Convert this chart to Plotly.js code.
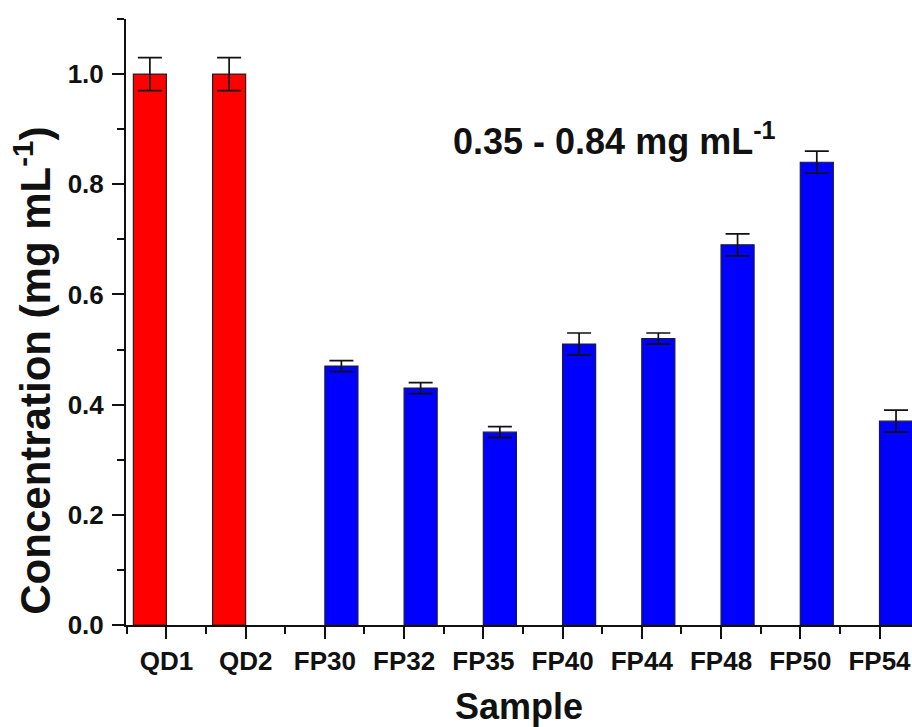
<!DOCTYPE html>
<html>
<head>
<meta charset="utf-8">
<script src="https://cdn.plot.ly/plotly-3.0.1.min.js"></script>
<style>html,body{margin:0;padding:0;background:#fff;overflow:hidden;}</style>
</head>
<body>
<div id="chart" style="width:912px;height:727px;"></div>
<script>
// ---- data ----
const categories = ['QD1', 'QD2', 'FP30', 'FP32', 'FP35', 'FP40', 'FP44', 'FP48', 'FP50', 'FP54'];
const qdSamples = ['QD1', 'QD2'];
const qdValues = [1.00, 1.00];
const qdErrors = [0.03, 0.03];
const fpSamples = ['FP30', 'FP32', 'FP35', 'FP40', 'FP44', 'FP48', 'FP50', 'FP54'];
const fpValues = [0.47, 0.43, 0.35, 0.51, 0.52, 0.69, 0.84, 0.37];
const fpErrors = [0.01, 0.01, 0.01, 0.02, 0.01, 0.02, 0.02, 0.02];
const yTickVals = [0.0, 0.2, 0.4, 0.6, 0.8, 1.0];
const rangeLabel = '0.35 - 0.84 mg mL<sup>-1</sup>';

// ---- styling ----
const FONT = 'Arial, "Liberation Sans", Helvetica, sans-serif';
const barW = 0.417;
const idx = s => categories.indexOf(s);

const qdTrace = {
  type: 'bar',
  x: qdSamples.map(idx),
  y: qdValues,
  width: barW,
  offset: -barW,
  marker: {color: '#ff0000', line: {color: '#222222', width: 1.2}},
  error_y: {type: 'data', array: qdErrors, visible: true, color: '#111111', thickness: 1.7, width: 12},
  hoverinfo: 'skip',
  showlegend: false
};
const fpTrace = {
  type: 'bar',
  x: fpSamples.map(idx),
  y: fpValues,
  width: barW,
  offset: 0,
  marker: {color: '#0000ff', line: {color: '#1a1a40', width: 1.2}},
  error_y: {type: 'data', array: fpErrors, visible: true, color: '#111111', thickness: 1.7, width: 12},
  hoverinfo: 'skip',
  showlegend: false
};

const layout = {
  width: 912,
  height: 727,
  margin: {l: 126, r: 0, t: 19, b: 102},
  paper_bgcolor: '#ffffff',
  plot_bgcolor: '#ffffff',
  barmode: 'overlay',
  font: {family: FONT, color: '#111111'},
  xaxis: {
    type: 'linear',
    range: [-0.51, 9.41],
    tickmode: 'array',
    tickvals: categories.map((c, i) => i),
    ticktext: categories,
    ticks: 'outside',
    ticklen: 12,
    tickwidth: 2,
    tickcolor: '#111111',
    showline: true,
    linecolor: '#111111',
    linewidth: 2,
    showgrid: false,
    zeroline: false,
    tickfont: {family: FONT, size: 26, weight: 'bold', color: '#111111'},
    minor: {tickmode: 'array', tickvals: categories.map((c, i) => i - 0.5), ticks: 'outside', ticklen: 7, tickwidth: 2, tickcolor: '#111111'},
    title: {text: 'Sample', font: {family: FONT, size: 36, weight: 'bold', color: '#111111'}, standoff: 27}
  },
  yaxis: {
    range: [0, 1.1],
    tickmode: 'array',
    tickvals: yTickVals,
    tickformat: '.1f',
    ticks: 'outside',
    ticklen: 12,
    tickwidth: 2,
    tickcolor: '#111111',
    showline: true,
    linecolor: '#111111',
    linewidth: 2,
    showgrid: false,
    zeroline: false,
    tickfont: {family: FONT, size: 26, weight: 'bold', color: '#111111'},
    ticklabelstandoff: 3,
    minor: {tickmode: 'linear', tick0: 0, dtick: 0.1, ticks: 'outside', ticklen: 7, tickwidth: 2, tickcolor: '#111111'}
  },
  annotations: [
    {
      text: rangeLabel,
      xref: 'paper', yref: 'y',
      x: 0.413, y: 0.882,
      xanchor: 'left', yanchor: 'middle',
      showarrow: false,
      font: {family: FONT, size: 36, weight: 'bold', color: '#111111'}
    },
    {
      text: 'Concentration (mg mL<sup>-1</sup>)',
      xref: 'paper', yref: 'paper',
      x: -0.118, y: 0.42,
      xanchor: 'center', yanchor: 'middle',
      textangle: -90,
      showarrow: false,
      font: {family: FONT, size: 42, weight: 'bold', color: '#111111'}
    }
  ]
};

Plotly.newPlot('chart', [qdTrace, fpTrace], layout, {displayModeBar: false, staticPlot: true});
</script>
</body>
</html>
